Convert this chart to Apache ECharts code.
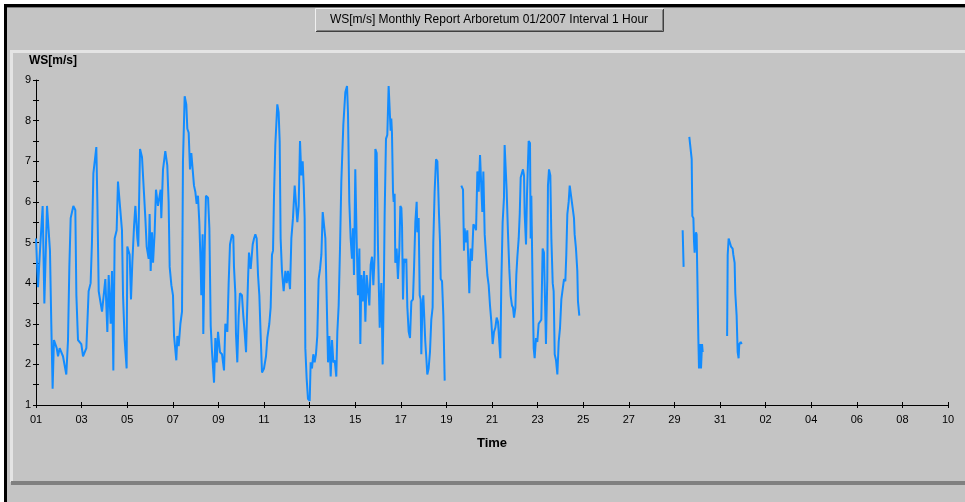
<!DOCTYPE html>
<html>
<head>
<meta charset="utf-8">
<script src="https://cdn.jsdelivr.net/npm/echarts@6/dist/echarts.min.js"></script>
<style>
html,body{margin:0;padding:0;background:#fff;}
#main{width:965px;height:502px;}
</style>
</head>
<body>
<div id="main"></div>
<script>
//hours since 01.01.2007 00:00, null value = no data
var hourOffset=[
	0,2.1,4.2,7.0,8.8,11.6,13.3,14.7,16.1,17.5,18.9,21.8,23.2,24.9,28.4,31.9,33.7,35.1,36.5,39.3,41.4,42.5,44.2,47.7,49.5,53,55.4,57.5,58.9,60.4,
	63.5,64.6,66,69.5,73,75.1,76.5,78.6,80,81.4,82.8,84.9,86.3,88.4,90.5,91.6,93.3,95.4,96.1,98.6,100,101.4,103.2,104.6,106.7,107.7,109.5,111.6,113.7,115.1,
	116.5,118.6,119.6,120.7,122.1,123.2,124.9,126.3,128.4,131.2,131.9,133.7,136.1,138.2,139.6,140.7,142.5,144.2,145.3,147.7,148.8,150.2,152,153.7,154.7,156.5,158.2,159.3,160.7,162.1,
	163.5,164.9,166.3,167.7,169.1,170.5,171.9,173.3,174,175.4,176.1,177.5,178.9,181.1,182.5,183.9,185.3,187.4,188.8,190.2,191.6,193.7,195.8,197.9,199.3,201.4,202.8,204.2,206.3,207.7,
	208.4,209.8,210.5,211.9,213.3,214.7,216.8,218.2,219.6,221.1,222.1,223.2,224.2,226,228.1,229.5,230.9,232.3,233.7,235.1,236.5,237.9,240,242.1,243.5,245.6,247,248.4,249.5,250.5,
	251.9,254,255.4,256.5,257.5,258.9,260.7,262.5,263.9,265.3,267.4,268.8,270.5,272.3,274,275.1,276.5,277.9,279.3,280.7,281.8,282.8,283.5,284.9,286.3,288.1,289.1,290.5,291.9,293.3,
	294.7,296.1,297.5,299,300.4,301.8,303.2,304.6,306,307.4,308.8,310.2,311.6,313,314.4,316.1,317.2,318.6,320,321.4,323.5,325.6,327.4,328.4,329.8,331.2,332.6,333.7,334.7,336.1,
	337.5,338.9,340.4,341.4,342.5,343.9,345.3,346.7,348.1,349.5,350.9,352.3,353.7,355.1,356.5,357.2,358.6,360,361.8,363.5,364.9,366.3,367,368.4,369.8,371.2,373.3,374,374.7,375.8,
	376.5,377.5,378.2,379.6,381,382.5,383.5,384.6,385.3,386.3,387.4,388.8,389.8,390.9,392.3,393.7,395.1,396.8,397.9,399.3,400.7,401.4,402.8,403.9,404.9,405.6,406.7,407.7,409.1,409.8,
	410.9,411.9,413.3,414.7,416.1,417.5,418.2,419.6,421.1,422.5,423.2,424.2,425.3,426,427.4,428.8,430.2,
	439,
	447.7,449.5,450.5,451.2,452.6,454,454.7,456.1,457.5,458.9,460.4,461.8,463.2,464.6,466,467.4,468.8,469.8,470.9,472.3,473.7,475.1,476.5,477.9,479.3,480.7,482.1,483.5,484.9,486.3,
	487.7,488.8,489.8,491.2,492.6,493.3,494.7,495.4,496.8,498.2,499.6,501,502.1,503.2,504.6,505.6,506.7,508.1,509.2,510.2,511.6,512.6,513.7,514.4,515.8,516.8,517.9,518.6,520,520.7,
	521.4,522.8,523.9,524.9,526.3,527.7,529.1,530.5,531.9,533.3,534.7,535.4,536.8,538.2,538.9,540,541.4,542.5,543.9,544.9,546,547.4,548.8,550.2,551.6,553,554.4,555.8,557.2,558.2,
	559.3,560.7,561.8,563.5,564.9,566.3,567,568.4,569.8,570.5,571.9,
	620,
	680.7,681.7,
	684,
	687.7,689.8,690.2,690.9,692,692.6,693.3,694,694.7,695.4,696.1,697.2,697.9,698.9,700,701.1,701.8,
	715,
	727.5,728.1,729.1,730.5,731.6,733.3,734,735.4,736.1,737.5,738.6,739.6,740.3,741.8,742.8
];
var windSpeed=[
	5.1,3.9,4.8,5.9,3.5,5.9,5.9,4.8,3.0,1.4,2.6,2.4,2.2,2.4,2.2,1.75,2.6,4.4,5.6,5.9,5.8,3.7,2.6,2.5,2.2,2.4,3.8,4.0,5.0,6.7,
	7.35,6.0,3.8,3.3,4.1,2.8,4.2,3.0,4.3,1.85,5.1,5.3,6.5,6.5,5.3,3.7,2.6,1.9,4.9,4.7,3.6,4.5,5.4,5.9,5.1,4.9,7.3,7.1,6.2,5.6,
	4.9,4.6,5.7,4.3,5.25,4.5,5.25,6.3,5.9,6.3,5.6,6.8,7.25,6.9,6.0,4.4,3.95,3.7,2.7,2.1,2.7,2.45,3.0,3.3,7.0,8.6,8.4,7.8,7.7,6.8,
	7.2,6.8,6.4,6.25,5.95,6.15,5.5,4.45,3.7,5.2,2.75,4.75,6.15,6.1,5.35,2.95,2.3,1.55,2.65,2.05,2.8,2.3,2.25,1.85,3.0,2.8,4.0,4.95,5.2,5.15,
	4.4,3.75,2.75,2.05,3.2,3.75,3.7,3.2,2.8,2.3,3.2,4.1,4.75,4.35,4.95,5.1,5.2,5.1,4.2,3.7,2.7,1.8,1.9,2.2,2.65,3.0,3.4,4.7,4.8,6.1,
	7.4,8.4,8.2,7.5,5.1,4.3,3.8,4.3,4.0,4.3,3.85,5.1,5.6,6.4,6.4,5.5,5.9,7.5,6.65,7.0,6.4,5.6,2.4,1.65,1.15,1.1,2.05,1.9,2.25,2.05,
	2.25,2.7,4.1,4.35,4.7,5.75,5.75,5.1,3.6,2.05,2.7,1.7,2.6,2.05,2.1,1.7,2.8,3.45,4.85,6.5,7.9,8.7,8.85,8.2,6.0,5.1,4.6,5.35,4.2,6.8,
	5.1,3.7,4.85,2.5,4.2,3.55,4.3,3.05,4.2,4.2,3.45,4.45,4.65,3.95,4.7,7.3,7.2,4.85,2.9,4.0,2.0,4.2,5.7,7.55,7.65,8.85,7.75,8.05,7.7,6.25,
	6.0,6.2,4.5,4.85,4.1,4.85,5.9,5.85,5.4,3.6,4.6,4.5,4.6,3.4,2.8,2.65,3.55,3.6,4.35,5.5,6.0,5.25,5.6,3.7,3.6,2.25,3.4,3.7,3.7,2.55,
	2.15,1.75,1.9,2.3,3.1,3.4,5.0,6.25,7.05,7.0,6.5,5.7,5.0,4.1,4.05,3.2,1.6,
	null,
	6.4,6.3,4.8,5.35,5.0,5.3,4.8,3.75,4.85,4.55,5.45,5.4,5.3,6.75,6.25,7.15,7.15,5.75,6.75,5.2,4.7,4.2,3.95,3.45,3.05,2.5,2.8,2.9,3.15,3.05,
	3.05,2.15,4.0,5.5,6.1,7.4,7.4,6.3,5.25,4.35,3.7,3.45,3.4,3.15,3.4,4.2,4.65,5.1,5.7,6.6,6.6,6.8,6.65,5.7,4.95,6.15,6.15,7.5,7.45,5.1,
	6.15,3.8,2.4,2.15,2.65,2.55,3.0,3.05,3.1,4.85,4.75,4.0,2.5,4.1,6.4,6.8,6.65,5.1,4.0,3.8,2.25,2.1,1.75,2.55,2.9,3.6,3.6,4.1,4.05,4.7,
	5.7,6.0,6.4,6.4,5.85,5.6,5.2,4.85,4.3,3.55,3.2,
	null,
	5.3,4.4,
	null,
	7.6,7.6,7.05,5.65,5.6,5.05,4.75,5.0,5.25,5.2,4.25,2.65,1.9,2.5,1.9,2.5,2.3,
	null,
	2.7,4.7,5.1,5.1,4.9,4.85,4.7,4.5,3.75,3.2,2.3,2.15,2.5,2.55,2.5
];
var startTime=Date.UTC(2007,0,1);
var xMin=0,xMax=960,xStep=48;
var yMin=1,yMax=9;

var seriesData=[];
for(var i=0;i<hourOffset.length;i++){
	seriesData.push([hourOffset[i],windSpeed[i]==null?'-':windSpeed[i]]);
}

//day of month for the x labels (01..31, 02..10)
function dayLabel(v){
	var d=new Date(startTime+v*3600000).getUTCDate();
	return d<10?'0'+d:''+d;
}

var fontName='"Liberation Sans", Arial, sans-serif';
var bg='#c4c4c4';

var chart=echarts.init(document.getElementById('main'),null,{renderer:'canvas'});
var option={
	backgroundColor:bg,
	animation:false,
	textStyle:{fontFamily:fontName},
	grid:{left:36,right:17,top:80,bottom:97},
	xAxis:[{
		type:'value',min:xMin,max:xMax,interval:xStep,
		axisLine:{lineStyle:{color:'#000',width:1}},
		axisTick:{length:3,lineStyle:{color:'#000'}},
		axisLabel:{formatter:dayLabel,color:'#000',fontSize:11,margin:9,fontFamily:fontName},
		splitLine:{show:false},
		name:'Time',nameLocation:'middle',nameGap:32,
		nameTextStyle:{color:'#000',fontSize:13,fontWeight:'bold',fontFamily:fontName}
	},{
		type:'value',min:xMin,max:xMax,interval:xStep,position:'bottom',
		axisLine:{show:false},
		axisTick:{inside:true,length:3,lineStyle:{color:'#000'}},
		axisLabel:{show:false},splitLine:{show:false}
	}],
	yAxis:[{
		type:'value',min:yMin,max:yMax,interval:1,
		axisLine:{show:true,lineStyle:{color:'#000',width:1}},
		axisTick:{show:true,length:3,lineStyle:{color:'#000'}},
		minorTick:{show:true,splitNumber:2,length:3,lineStyle:{color:'#000'}},
		axisLabel:{color:'#000',fontSize:11,margin:5,fontFamily:fontName},
		splitLine:{show:false}
	},{
		type:'value',min:yMin,max:yMax,interval:1,position:'left',
		axisLine:{show:false},
		axisTick:{show:true,inside:true,length:3,lineStyle:{color:'#000'}},
		minorTick:{show:true,splitNumber:2,length:3,lineStyle:{color:'#000'}},
		axisLabel:{show:false},splitLine:{show:false}
	}],
	series:[{
		name:'WS[m/s]',
		type:'line',
		xAxisIndex:0,yAxisIndex:0,
		data:seriesData,
		showSymbol:false,
		connectNulls:false,
		lineStyle:{color:'#128cff',width:2},
		itemStyle:{color:'#128cff'}
	}],
	graphic:[
		//outer white margin and black frame
		{type:'rect',shape:{x:0,y:0,width:965,height:4},style:{fill:'#fff'},silent:true},
		{type:'rect',shape:{x:0,y:0,width:4,height:502},style:{fill:'#fff'},silent:true},
		{type:'rect',shape:{x:4,y:4,width:961,height:3},style:{fill:'#000'},silent:true},
		{type:'rect',shape:{x:4,y:4,width:3,height:498},style:{fill:'#000'},silent:true},
		{type:'rect',shape:{x:7,y:7,width:958,height:1},style:{fill:'#7a7a7a'},silent:true},
		//inner panel edges
		{type:'rect',shape:{x:10,y:50,width:955,height:3},style:{fill:'#e4e4e4'},silent:true},
		{type:'rect',shape:{x:10,y:50,width:3,height:432},style:{fill:'#e4e4e4'},silent:true},
		{type:'rect',shape:{x:11,y:481,width:954,height:4},style:{fill:'#808080'},silent:true},
		//title button
		{type:'rect',shape:{x:315,y:8,width:349,height:24},style:{fill:bg,stroke:null},silent:true},
		{type:'polyline',shape:{points:[[315.5,31.5],[315.5,8.5],[663.5,8.5]]},style:{stroke:'#f0f0f0',lineWidth:1,fill:null},silent:true},
		{type:'polyline',shape:{points:[[316,31.5],[663.5,31.5],[663.5,9]]},style:{stroke:'#404040',lineWidth:1,fill:null},silent:true},
		{type:'polyline',shape:{points:[[317,30.5],[662.5,30.5],[662.5,10]]},style:{stroke:'#808080',lineWidth:1,fill:null},silent:true},
		{type:'text',x:489,y:20,style:{text:'WS[m/s] Monthly Report Arboretum 01/2007 Interval 1 Hour',fill:'#000',font:'12px '+fontName,textAlign:'center',textVerticalAlign:'middle'},silent:true},
		//y axis name
		{type:'text',x:29,y:61,style:{text:'WS[m/s]',fill:'#000',font:'bold 12px '+fontName,textAlign:'left',textVerticalAlign:'middle'},silent:true}
	]
};
chart.setOption(option);
</script>
</body>
</html>
